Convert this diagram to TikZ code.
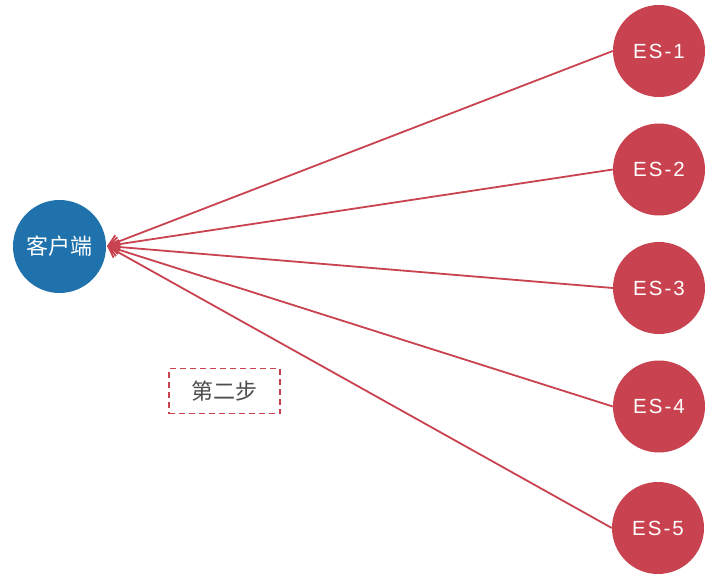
\documentclass[tikz,border=0pt]{standalone}
\usepackage{fontspec}
\setmainfont{Liberation Sans}
\newfontfamily\cjk{Noto Sans CJK SC}
\newfontfamily\esfont[LetterSpace=10]{Liberation Sans}
\usetikzlibrary{arrows.meta}
\definecolor{esred}{HTML}{C9424F}
\definecolor{cliblue}{HTML}{1F72AC}
\definecolor{labgray}{HTML}{4D4D4D}
\begin{document}
\begin{tikzpicture}[x=1pt,y=-1pt,
  esnode/.style={circle,fill=esred,draw=none,minimum size=92pt,inner sep=0pt,text=white,font=\esfont\fontsize{20.5}{24}\selectfont},
  clinode/.style={circle,fill=cliblue,draw=none,minimum size=93pt,inner sep=0pt,text=white,font=\cjk\fontsize{22}{26}\selectfont},
  link/.style={draw=esred,line width=1.8pt,-{Straight Barb[length=10pt,width=14pt,line width=1.8pt]}},
  steplabel/.style={draw=esred,dashed,dash pattern=on 6pt off 4pt,line width=1.6pt,minimum width=111pt,minimum height=45pt,inner sep=0pt,text=labgray,font=\cjk\fontsize{22}{26}\selectfont}]
\useasboundingbox (0,0) rectangle (720,588);
\node[clinode] (client) at (59.5,246.5) {客户端};
\node[esnode] (es1) at (659,51) {ES-1};
\node[esnode] (es2) at (659,169.5) {ES-2};
\node[esnode] (es3) at (659,288) {ES-3};
\node[esnode] (es4) at (659,406.5) {ES-4};
\node[esnode] (es5) at (658,528) {ES-5};
\coordinate (tip) at (107,246);
\foreach \n in {es1,es2,es3,es4,es5}{
  \draw[link] (\n.west) -- (tip);
}
\node[steplabel] (step2) at (224.5,391) {第二步};
\end{tikzpicture}
\end{document}
